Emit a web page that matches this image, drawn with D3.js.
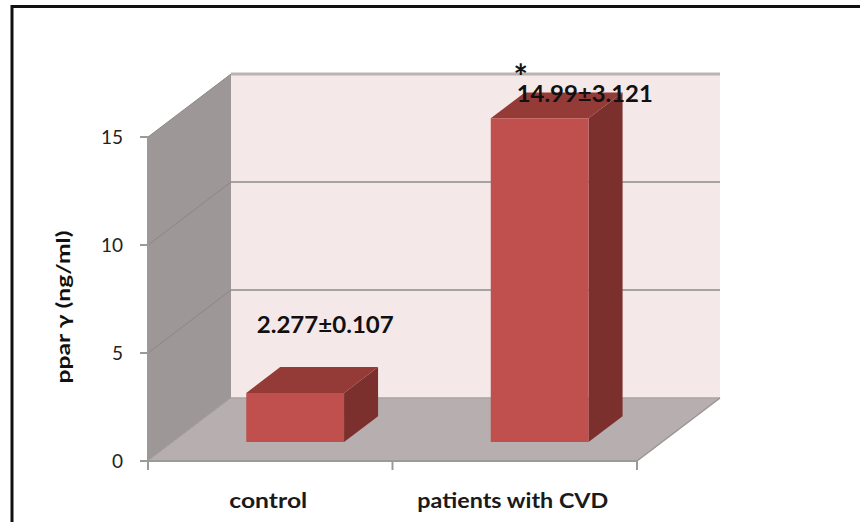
<!DOCTYPE html>
<html>
<head>
<meta charset="utf-8">
<script src="https://cdn.jsdelivr.net/npm/d3@7"></script>
<style>
  html, body { margin: 0; padding: 0; background: #ffffff; }
  svg { display: block; }
</style>
</head>
<body>
<svg id="chart" width="860" height="522"></svg>
<script>
// ---- data ----
const categories = ["control", "patients with CVD"];
const values = [2.277, 14.99];
const valueLabels = ["2.277±0.107", "14.99±3.121"];
const significance = ["", "*"];
const yTicks = [0, 5, 10, 15];
const yTitle = "ppar γ (ng/ml)";

// ---- layout ----
const W = 860, H = 522;
const plot = { left: 148, right: 637, top: 137, bottom: 461 };
const depth = { dx: 83, dy: 63 };           // offset of the back wall
const barZ = [0.3, 0.71];                    // bar depth extent (0 = front, 1 = back)
const font = "Lato, 'Open Sans', 'DejaVu Sans', sans-serif";

const svg = d3.select("#chart");

const x = d3.scaleBand().domain(categories).range([plot.left, plot.right]).paddingInner(0).paddingOuter(0);
const y = d3.scaleLinear().domain([0, 15]).range([plot.bottom, plot.top]);

// project a point (screen x on front plane, value, depth z) into 2D
const P = (px, v, z) => [px + z * depth.dx, y(v) - z * depth.dy];
const poly = pts => pts.map(p => p.join(",")).join(" ");

// outer frame
svg.append("rect")
  .attr("x", 12).attr("y", 6.5)
  .attr("width", W + 20).attr("height", H + 20)
  .attr("fill", "none").attr("stroke", "#111").attr("stroke-width", 3);

const x0 = plot.left, x1 = plot.right;
const vMax = y.domain()[1];

// walls and floor
svg.append("polygon").attr("points", poly([P(x0, 0, 1), P(x0, vMax, 1), P(x1, vMax, 1), P(x1, 0, 1)]))
  .attr("fill", "#f4e8e8");
svg.append("polygon").attr("points", poly([P(x0, 0, 0), P(x0, vMax, 0), P(x0, vMax, 1), P(x0, 0, 1)]))
  .attr("fill", "#9d9897");
svg.append("polygon").attr("points", poly([P(x0, 0, 0), P(x1, 0, 0), P(x1, 0, 1), P(x0, 0, 1)]))
  .attr("fill", "#b7afaf");

// gridlines on back wall and left wall
const grid = svg.append("g");
yTicks.filter(t => t > 0).forEach(t => {
  const a = P(x0, t, 1), b = P(x1, t, 1), c = P(x0, t, 0);
  grid.append("line").attr("x1", a[0]).attr("y1", a[1]).attr("x2", b[0]).attr("y2", b[1])
    .attr("stroke", t === vMax ? "#b8b4b4" : "#a5a2a2").attr("stroke-width", t === vMax ? 3 : 2);
  grid.append("line").attr("x1", c[0]).attr("y1", c[1]).attr("x2", a[0]).attr("y2", a[1])
    .attr("stroke", "#8c8786").attr("stroke-width", 1);
});
// floor back edge & outline edges
{
  const a = P(x0, 0, 1), b = P(x1, 0, 1);
  grid.append("line").attr("x1", a[0]).attr("y1", a[1]).attr("x2", b[0]).attr("y2", b[1])
    .attr("stroke", "#aaa4a4").attr("stroke-width", 1.5);
  const c = P(x0, 0, 0);
  grid.append("line").attr("x1", c[0]).attr("y1", c[1]).attr("x2", a[0]).attr("y2", a[1])
    .attr("stroke", "#a7a1a1").attr("stroke-width", 1);
  const d = P(x1, 0, 0);
  grid.append("line").attr("x1", d[0]).attr("y1", d[1]).attr("x2", b[0]).attr("y2", b[1])
    .attr("stroke", "#9a9494").attr("stroke-width", 1.5);
}

// axes
const axisColor = "#9a9a9a";
svg.append("line").attr("x1", x0).attr("x2", x0).attr("y1", y(0)).attr("y2", y(vMax))
  .attr("stroke", axisColor).attr("stroke-width", 2);
svg.append("line").attr("x1", x0 - 8).attr("x2", x1).attr("y1", y(0)).attr("y2", y(0))
  .attr("stroke", axisColor).attr("stroke-width", 2);

const yAxis = svg.append("g");
yTicks.forEach(t => {
  yAxis.append("line").attr("x1", x0 - 8).attr("x2", x0).attr("y1", y(t)).attr("y2", y(t))
    .attr("stroke", axisColor).attr("stroke-width", 2);
  yAxis.append("text").attr("x", x0 - 25).attr("y", y(t)).attr("dy", "0.35em")
    .attr("text-anchor", "end").attr("font-family", font).attr("font-size", 19)
    .attr("fill", "#222").text(t);
});

const xTickPos = categories.map(c => x(c)).concat([x1]);
xTickPos.forEach(px => {
  svg.append("line").attr("x1", px).attr("x2", px).attr("y1", y(0)).attr("y2", y(0) + 9)
    .attr("stroke", axisColor).attr("stroke-width", 2);
});

svg.selectAll(".cat").data(categories).join("text")
  .attr("class", "cat")
  .attr("x", d => x(d) + x.bandwidth() / 2 - 2)
  .attr("y", 508)
  .attr("text-anchor", "middle").attr("font-family", font).attr("font-weight", 700)
  .attr("font-size", 20).attr("fill", "#1a1a1a")
  .attr("textLength", (d, i) => i === 0 ? 78 : 191).attr("lengthAdjust", "spacingAndGlyphs")
  .text(d => d);

svg.append("text")
  .attr("transform", `translate(70, 307) rotate(-90)`)
  .attr("text-anchor", "middle").attr("font-family", font).attr("font-weight", 700)
  .attr("font-size", 18).attr("fill", "#111")
  .attr("textLength", 153).attr("lengthAdjust", "spacingAndGlyphs")
  .text(yTitle);

// bars (3D boxes)
const bars = svg.append("g");
categories.forEach((c, i) => {
  const bx0 = x(c) + x.bandwidth() * 0.3;
  const bx1 = x(c) + x.bandwidth() * 0.7;
  const v = values[i];
  const [za, zb] = barZ;
  bars.append("polygon")
    .attr("points", poly([P(bx1, v, za), P(bx1, v, zb), P(bx1, 0, zb), P(bx1, 0, za)]))
    .attr("fill", "#7c302e");
  bars.append("polygon")
    .attr("points", poly([P(bx0, v, za), P(bx1, v, za), P(bx1, v, zb), P(bx0, v, zb)]))
    .attr("fill", "#943a37");
  bars.append("polygon")
    .attr("points", poly([P(bx0, 0, za), P(bx0, v, za), P(bx1, v, za), P(bx1, 0, za)]))
    .attr("fill", "#c0504d");
});

// value labels, placed relative to each bar's top
const labelOffsets = [{ dx: 55, dy: -79, size: 23, weight: 700, len: 137 },
                      { dx: 70, dy: -35, size: 22, weight: 700, len: 136 }];
categories.forEach((c, i) => {
  const o = labelOffsets[i];
  const cx = x(c) + x.bandwidth() / 2 + o.dx;
  const by = y(values[i]) + o.dy;
  svg.append("text").attr("x", cx).attr("y", by)
    .attr("text-anchor", "middle").attr("font-family", font)
    .attr("font-weight", o.weight).attr("font-size", o.size).attr("fill", "#111")
    .attr("textLength", o.len).attr("lengthAdjust", "spacingAndGlyphs")
    .text(valueLabels[i]);
  if (significance[i]) {
    svg.append("text").attr("x", cx - 64).attr("y", by - 13)
      .attr("text-anchor", "middle").attr("font-family", font)
      .attr("font-weight", 700).attr("font-size", 34).attr("fill", "#111")
      .text(significance[i]);
  }
});
</script>
</body>
</html>
